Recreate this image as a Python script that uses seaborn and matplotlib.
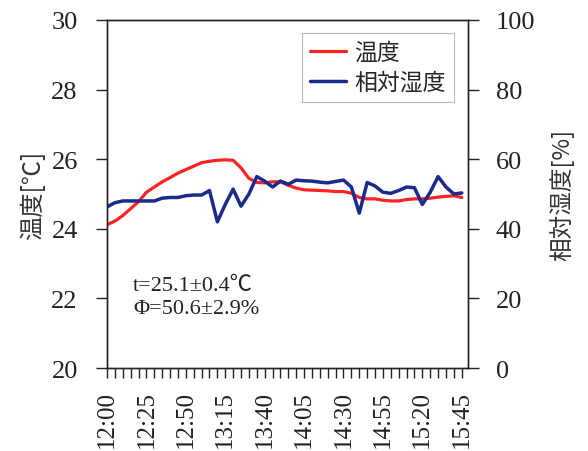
import numpy as np
import pandas as pd
import matplotlib
matplotlib.use("Agg")
import matplotlib.pyplot as plt
import seaborn as sns

# Measurement times, every 5 minutes
times = ["12:00", "12:05", "12:10", "12:15", "12:20", "12:25", "12:30", "12:35", "12:40", "12:45",
         "12:50", "12:55", "13:00", "13:05", "13:10", "13:15", "13:20", "13:25", "13:30", "13:35",
         "13:40", "13:45", "13:50", "13:55", "14:00", "14:05", "14:10", "14:15", "14:20", "14:25",
         "14:30", "14:35", "14:40", "14:45", "14:50", "14:55", "15:00", "15:05", "15:10", "15:15",
         "15:20", "15:25", "15:30", "15:35", "15:40", "15:45"]

# Air temperature [°C]
temperature = [24.12, 24.22, 24.38, 24.58, 24.78, 25.05, 25.20, 25.35, 25.47, 25.60,
               25.70, 25.80, 25.90, 25.94, 25.97, 25.98, 25.97, 25.75, 25.45, 25.33,
               25.32, 25.35, 25.35, 25.25, 25.17, 25.12, 25.11, 25.10, 25.09, 25.07,
               25.07, 25.02, 24.90, 24.86, 24.86, 24.82, 24.80, 24.80, 24.84, 24.86,
               24.86, 24.88, 24.91, 24.93, 24.95, 24.90]

# Relative humidity [%]
humidity = [46.3, 47.5, 48.0, 48.0, 48.0, 48.0, 48.0, 48.8, 49.0, 49.0,
            49.5, 49.7, 49.7, 51.0, 42.0, 47.0, 51.4, 46.5, 50.0, 55.0,
            53.7, 52.0, 53.7, 52.8, 54.0, 53.8, 53.7, 53.4, 53.2, 53.6,
            54.0, 52.0, 44.5, 53.3, 52.3, 50.5, 50.2, 51.0, 52.0, 51.8,
            47.0, 50.5, 55.0, 52.0, 50.0, 50.3]

temp_ticks = [20, 22, 24, 26, 28, 30]
rh_ticks = [0, 20, 40, 60, 80, 100]

df = pd.DataFrame({"idx": np.arange(len(times)), "time": times,
                   "temp": temperature, "rh": humidity})

sns.set_theme(style="ticks")
plt.rcParams["font.family"] = ["Liberation Serif", "Noto Sans CJK JP", "DejaVu Sans"]
cjk = ["Noto Sans CJK JP", "DejaVu Sans"]

fig = plt.figure(figsize=(5.88, 4.52), dpi=100)
ax = fig.add_axes([0.182, 0.1836, 0.614, 0.770])
ax2 = ax.twinx()

red = "#ff2222"
navy = "#1c2a8c"
sns.lineplot(data=df, x="idx", y="temp", ax=ax, color=red, lw=2.3, label="温度", legend=False)
sns.lineplot(data=df, x="idx", y="rh", ax=ax2, color=navy, lw=2.5, label="相対湿度", legend=False)

ax.set_xlim(0, 45.8)
ax.set_ylim(20, 30)
ax2.set_ylim(0, 100)
ax.set_yticks(temp_ticks)
ax2.set_yticks(rh_ticks)
ax.set_yticklabels([str(v) for v in temp_ticks])
ax2.set_yticklabels([str(v) for v in rh_ticks])

ax.set_xticks(df["idx"])
ax.set_xticklabels([t if i % 5 == 0 else "" for i, t in enumerate(times)], rotation=90)

for a in (ax, ax2):
    for s in a.spines.values():
        s.set_visible(True)
        s.set_color("#222222")
        s.set_linewidth(1.0)

ax.tick_params(axis="y", labelsize=19, length=8, width=1, pad=13, colors="#222222", labelcolor="#222222")
ax.tick_params(axis="x", labelsize=18, length=7, width=1, pad=9, colors="#222222", labelcolor="#222222")
ax2.tick_params(axis="y", labelsize=19, length=8, width=1, pad=12, colors="#222222", labelcolor="#222222")

ax.set_xlabel("")
ax.set_ylabel("温度[℃]", family=cjk, fontsize=17.5, color="#333333", labelpad=4)
ax2.set_ylabel("相対湿度[%]", family=cjk, fontsize=17, color="#333333", labelpad=10)

h1, l1 = ax.get_legend_handles_labels()
h2, l2 = ax2.get_legend_handles_labels()
leg = ax2.legend(h1 + h2, l1 + l2, loc="upper right", bbox_to_anchor=(0.961, 0.963),
                 prop={"family": cjk, "size": 16.5}, frameon=True, fancybox=False,
                 edgecolor="#aaaaaa", handlelength=1.6, handletextpad=0.35,
                 borderpad=0.35, labelspacing=0.3, borderaxespad=0.0)
leg.get_frame().set_linewidth(0.8)

ax.text(0.072, 0.238, "t=25.1±0.4℃", transform=ax.transAxes, fontsize=16,
        va="center", ha="left", color="#222222")
ax.text(0.072, 0.172, "Φ=50.6±2.9%", transform=ax.transAxes, fontsize=16,
        va="center", ha="left", color="#222222")

fig.savefig("out.png", dpi=100)
